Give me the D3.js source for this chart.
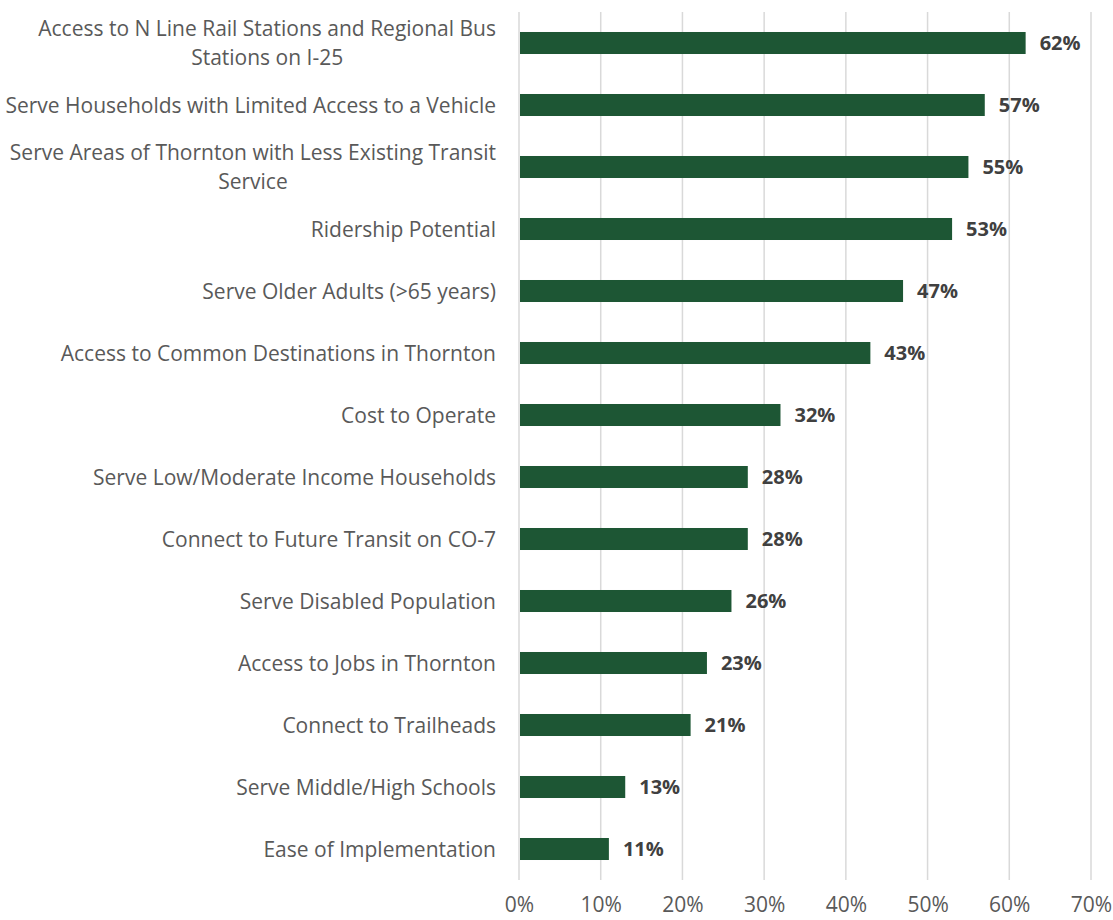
<!DOCTYPE html>
<html>
<head>
<meta charset="utf-8">
<script src="https://cdn.jsdelivr.net/npm/d3@7"></script>
<style>
  html, body { margin: 0; padding: 0; background: #ffffff; }
  svg { display: block; }
</style>
</head>
<body>
<svg id="chart" width="1113" height="920"></svg>
<script>
// Survey results: share of respondents rating each criterion as important
const categories = [
  ["Access to N Line Rail Stations and Regional Bus", "Stations on I-25"],
  ["Serve Households with Limited Access to a Vehicle"],
  ["Serve Areas of Thornton with Less Existing Transit", "Service"],
  ["Ridership Potential"],
  ["Serve Older Adults (>65 years)"],
  ["Access to Common Destinations in Thornton"],
  ["Cost to Operate"],
  ["Serve Low/Moderate Income Households"],
  ["Connect to Future Transit on CO-7"],
  ["Serve Disabled Population"],
  ["Access to Jobs in Thornton"],
  ["Connect to Trailheads"],
  ["Serve Middle/High Schools"],
  ["Ease of Implementation"]
];
const values = [62, 57, 55, 53, 47, 43, 32, 28, 28, 26, 23, 21, 13, 11];
const xTicks = [0, 10, 20, 30, 40, 50, 60, 70];

const svg = d3.select("#chart");
const margin = { top: 12, right: 22, bottom: 40, left: 519 };
const width = 1113 - margin.left - margin.right;
const height = 920 - margin.top - margin.bottom;

const font = "'Open Sans', Lato, sans-serif";

const x = d3.scaleLinear().domain([0, 70]).range([0, width]);
const y = d3.scaleBand()
  .domain(d3.range(categories.length))
  .range([0, height])
  .paddingInner(0.645)
  .paddingOuter(0.3225);

const g = svg.append("g").attr("transform", `translate(${margin.left},${margin.top})`);

// vertical gridlines
g.append("g")
  .selectAll("line")
  .data(xTicks)
  .join("line")
  .attr("x1", d => x(d)).attr("x2", d => x(d))
  .attr("y1", 0).attr("y2", height)
  .attr("stroke", "#d9d9d9")
  .attr("stroke-width", 1.5);

// x axis tick labels
const xAxis = g.append("g")
  .attr("transform", `translate(0,${height})`)
  .call(d3.axisBottom(x).tickValues(xTicks).tickFormat(d => d + "%").tickSize(0).tickPadding(17));
xAxis.select(".domain").remove();
xAxis.selectAll("text")
  .attr("font-family", font)
  .attr("font-size", 21)
  .attr("fill", "#595959");

// bars
g.append("g")
  .selectAll("rect")
  .data(values)
  .join("rect")
  .attr("x", x(0) + 1)
  .attr("y", (d, i) => y(i))
  .attr("width", d => x(d) - x(0) - 1)
  .attr("height", y.bandwidth())
  .attr("fill", "#1d5634");

// value labels
g.append("g")
  .selectAll("text")
  .data(values)
  .join("text")
  .attr("x", d => x(d) + 14)
  .attr("y", (d, i) => y(i) + y.bandwidth() / 2)
  .attr("dy", "0.36em")
  .attr("font-family", font)
  .attr("font-size", 20)
  .attr("font-weight", "bold")
  .attr("fill", "#404040")
  .text(d => d + "%");

// category labels: block right-aligned, wrapped lines centred within the block
const labelRight = -23;
const lineGap = 29;
const labels = g.append("g");
categories.forEach((lines, i) => {
  const cy = y(i) + y.bandwidth() / 2;
  const t = labels.append("text")
    .attr("font-family", font)
    .attr("font-size", 21)
    .attr("fill", "#595959");
  const spans = lines.map((ln, k) => t.append("tspan")
    .attr("y", cy + (k - (lines.length - 1) / 2) * lineGap)
    .attr("dy", "0.36em")
    .text(ln));
  const maxW = d3.max(spans, s => s.node().getComputedTextLength());
  spans.forEach(s => s.attr("x", labelRight - maxW / 2).attr("text-anchor", "middle"));
});
</script>
</body>
</html>
